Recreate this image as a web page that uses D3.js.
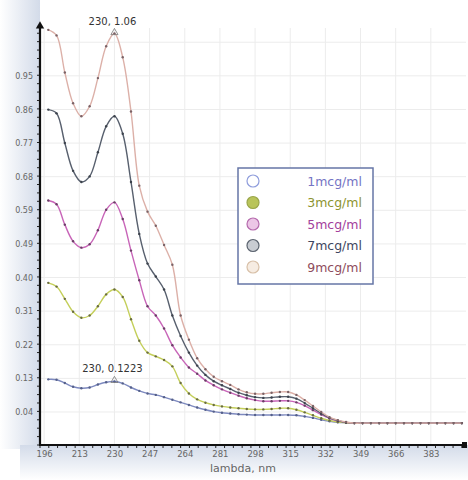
<!DOCTYPE html>
<html>
<head>
<meta charset="utf-8">
<script src="https://cdn.jsdelivr.net/npm/d3@7"></script>
<style>
	body { margin: 0; background: #fff; }
	text { font-family: "DejaVu Sans", Verdana, sans-serif; }
</style>
</head>
<body>
<div id="chart-area"></div>
<script>
// wavelength, nm
const wavelengths = [198, 202, 206, 210, 214, 218, 222, 226, 230, 234, 238, 242, 246, 250, 254, 258, 262, 266, 270, 274,
	278, 282, 286, 290, 294, 298, 302, 306, 310, 314, 318, 322, 326, 330, 334, 338, 342, 346, 350, 354,
	358, 362, 366, 370, 374, 378, 382, 386, 390, 394, 398]

// absorbance
const conc1 = [0.128, 0.127, 0.118, 0.108, 0.104, 0.106, 0.114, 0.120, 0.1223,
	0.117, 0.106, 0.097, 0.090, 0.086, 0.080, 0.073, 0.066, 0.059, 0.052,
	0.046, 0.041, 0.038, 0.036, 0.034, 0.033, 0.032, 0.032, 0.032, 0.032,
	0.032, 0.031, 0.028, 0.024, 0.019, 0.015, 0.012, 0.011,
	0.010, 0.010, 0.010, 0.010, 0.010, 0.010, 0.010, 0.010, 0.010, 0.010, 0.010, 0.010, 0.010, 0.010]
const conc3 = [0.388, 0.378, 0.345, 0.310, 0.294, 0.300, 0.325, 0.357, 0.370,
	0.350, 0.290, 0.232, 0.200, 0.190, 0.180, 0.163, 0.118, 0.090, 0.074,
	0.065, 0.059, 0.055, 0.052, 0.050, 0.048, 0.047, 0.047, 0.048, 0.050,
	0.050, 0.046, 0.039, 0.031, 0.023, 0.017, 0.013, 0.011,
	0.010, 0.010, 0.010, 0.010, 0.010, 0.010, 0.010, 0.010, 0.010, 0.010, 0.010, 0.010, 0.010, 0.010]
const conc5 = [0.610, 0.600, 0.545, 0.500, 0.483, 0.492, 0.530, 0.585, 0.605,
	0.560, 0.475, 0.395, 0.325, 0.300, 0.265, 0.220, 0.187, 0.160, 0.143,
	0.125, 0.112, 0.101, 0.092, 0.084, 0.077, 0.072, 0.069, 0.069, 0.070,
	0.070, 0.066, 0.057, 0.045, 0.033, 0.023, 0.016, 0.012,
	0.010, 0.010, 0.010, 0.010, 0.010, 0.010, 0.010, 0.010, 0.010, 0.010, 0.010, 0.010, 0.010, 0.010]
const conc7 = [0.855, 0.845, 0.765, 0.690, 0.660, 0.675, 0.740, 0.810, 0.837,
	0.790, 0.660, 0.520, 0.440, 0.405, 0.370, 0.300, 0.245, 0.200, 0.165,
	0.140, 0.123, 0.112, 0.102, 0.092, 0.085, 0.080, 0.078, 0.079, 0.081,
	0.081, 0.076, 0.064, 0.050, 0.036, 0.024, 0.017, 0.012,
	0.010, 0.010, 0.010, 0.010, 0.010, 0.010, 0.010, 0.010, 0.010, 0.010, 0.010, 0.010, 0.010, 0.010]
const conc9 = [1.070, 1.055, 0.955, 0.872, 0.837, 0.864, 0.940, 1.026, 1.060,
	0.996, 0.850, 0.650, 0.580, 0.542, 0.490, 0.437, 0.300, 0.235, 0.185,
	0.155, 0.135, 0.123, 0.113, 0.101, 0.093, 0.089, 0.089, 0.092, 0.094,
	0.094, 0.086, 0.072, 0.056, 0.040, 0.026, 0.018, 0.013,
	0.010, 0.010, 0.010, 0.010, 0.010, 0.010, 0.010, 0.010, 0.010, 0.010, 0.010, 0.010, 0.010, 0.010]

const seriesNames = ["1mcg/ml", "3mcg/ml", "5mcg/ml", "7mcg/ml", "9mcg/ml"]
const seriesValues = [conc1, conc3, conc5, conc7, conc9]

const xTicks = [196, 213, 230, 247, 264, 281, 298, 315, 332, 349, 366, 383]
const yTicks = [0.04, 0.1306, 0.2212, 0.3118, 0.4024, 0.493, 0.5836, 0.6742, 0.7648, 0.8554, 0.946, 1.0366]
const yTickLabels = ["0.04", "0.13", "0.22", "0.31", "0.40", "0.49", "0.59", "0.68", "0.77", "0.86", "0.95", ""]

// peak annotations [wavelength, absorbance, label]
const peaks = [[230, 1.06, "230, 1.06"], [230, 0.1223, "230, 0.1223"]]

const lineColors = ["#7d89bf", "#c4cf5a", "#c865b8", "#58606e", "#dcb0a8"]
const dotColors = ["#55608a", "#6a6c40", "#6a3e66", "#3c424c", "#7a6266"]
const legendFill = ["#ffffff", "#b9c45a", "#ecc6e6", "#c8ccd2", "#f6ece2"]
const legendStroke = ["#8f9ddc", "#9aa64a", "#b56aad", "#5c6470", "#d8c0a8"]
const legendText = ["#7474c4", "#8c9430", "#a2409c", "#3e4660", "#8e4c5c"]

const W = 468, H = 480
const MARGIN = { LEFT: 40, RIGHT: 2, TOP: 28, BOTTOM: 35 }

const svg = d3.select("#chart-area").append("svg")
	.attr("width", W)
	.attr("height", H)

const defs = svg.append("defs")
const gl = defs.append("linearGradient").attr("id", "gLeft")
	.attr("x1", "0").attr("x2", "1").attr("y1", "0").attr("y2", "0")
gl.append("stop").attr("offset", "0").attr("stop-color", "#ffffff")
gl.append("stop").attr("offset", "1").attr("stop-color", "#d3dbe9")
const gb = defs.append("linearGradient").attr("id", "gBottom")
	.attr("x1", "0").attr("x2", "0").attr("y1", "0").attr("y2", "1")
gb.append("stop").attr("offset", "0").attr("stop-color", "#d3dbe9")
gb.append("stop").attr("offset", "1").attr("stop-color", "#ffffff")

// shaded panels left of and below the plot
svg.append("rect").attr("x", 0).attr("y", 0).attr("width", MARGIN.LEFT).attr("height", H - MARGIN.BOTTOM + 4)
	.attr("fill", "url(#gLeft)")
svg.append("rect").attr("x", MARGIN.LEFT - 20).attr("y", H - MARGIN.BOTTOM).attr("width", W - MARGIN.LEFT + 20).attr("height", MARGIN.BOTTOM)
	.attr("fill", "url(#gBottom)")

const x = d3.scaleLinear().domain([194, 400]).range([MARGIN.LEFT, W - MARGIN.RIGHT])
const y = d3.scaleLinear().domain([-0.049, 1.075]).range([H - MARGIN.BOTTOM, MARGIN.TOP])

// grid
const grid = svg.append("g").attr("stroke", "#ececec").attr("stroke-width", 1)
grid.selectAll(".vg").data(xTicks).enter().append("line")
	.attr("x1", d => x(d)).attr("x2", d => x(d))
	.attr("y1", MARGIN.TOP).attr("y2", H - MARGIN.BOTTOM)
grid.selectAll(".hg").data(yTicks).enter().append("line")
	.attr("x1", MARGIN.LEFT).attr("x2", W - MARGIN.RIGHT)
	.attr("y1", d => y(d)).attr("y2", d => y(d))

// series
const line = d3.line()
	.x((d, i) => x(wavelengths[i]))
	.y(d => y(d))
	.curve(d3.curveCatmullRom.alpha(0.5))

seriesValues.forEach((vals, k) => {
	svg.append("path")
		.attr("d", line(vals))
		.attr("fill", "none")
		.attr("stroke", lineColors[k])
		.attr("stroke-width", 1.4)
	svg.append("g").selectAll("circle").data(vals).enter().append("circle")
		.attr("cx", (d, i) => x(wavelengths[i]))
		.attr("cy", d => y(d))
		.attr("r", 1.2)
		.attr("fill", dotColors[k])
})

// peak markers + labels
peaks.forEach(p => {
	svg.append("path")
		.attr("d", d3.symbol(d3.symbolTriangle, 22)())
		.attr("transform", `translate(${x(p[0])}, ${y(p[1]) - 1})`)
		.attr("fill", "none")
		.attr("stroke", "#777")
		.attr("stroke-width", 0.8)
	svg.append("text")
		.attr("x", x(p[0]) - 2)
		.attr("y", y(p[1]) - 9)
		.attr("text-anchor", "middle")
		.attr("font-size", "10px")
		.attr("fill", "#333")
		.text(p[2])
})

// axes
const xAxisCall = d3.axisBottom(x).tickValues(xTicks).tickSize(0).tickPadding(6)
const xAxis = svg.append("g")
	.attr("transform", `translate(0, ${H - MARGIN.BOTTOM})`)
	.call(xAxisCall)
xAxis.select(".domain").remove()
xAxis.selectAll("text").attr("font-size", "8.5px").attr("fill", "#666")

const xMinor = d3.range(194, 400, 17 / 4)
svg.append("g").selectAll("line").data(xMinor).enter().append("line")
	.attr("x1", d => x(d)).attr("x2", d => x(d))
	.attr("y1", H - MARGIN.BOTTOM).attr("y2", H - MARGIN.BOTTOM + 3)
	.attr("stroke", "#222").attr("stroke-width", 1)

const yAxisCall = d3.axisLeft(y).tickValues(yTicks).tickSize(0).tickPadding(7)
	.tickFormat((d, i) => yTickLabels[i])
const yAxis = svg.append("g")
	.attr("transform", `translate(${MARGIN.LEFT}, 0)`)
	.call(yAxisCall)
yAxis.select(".domain").remove()
yAxis.selectAll("text").attr("font-size", "8px").attr("fill", "#666")

const yMinor = d3.range(-0.049, 1.07, 0.0906 / 4)
svg.append("g").selectAll("line").data(yMinor).enter().append("line")
	.attr("x1", MARGIN.LEFT - 3).attr("x2", MARGIN.LEFT)
	.attr("y1", d => y(d)).attr("y2", d => y(d))
	.attr("stroke", "#222").attr("stroke-width", 1)

svg.append("line")
	.attr("x1", MARGIN.LEFT).attr("x2", MARGIN.LEFT)
	.attr("y1", MARGIN.TOP - 2).attr("y2", H - MARGIN.BOTTOM + 1)
	.attr("stroke", "#111").attr("stroke-width", 2.2)
svg.append("line")
	.attr("x1", MARGIN.LEFT - 1).attr("x2", W - MARGIN.RIGHT)
	.attr("y1", H - MARGIN.BOTTOM).attr("y2", H - MARGIN.BOTTOM)
	.attr("stroke", "#111").attr("stroke-width", 2.2)
svg.append("path")
	.attr("d", d3.symbol(d3.symbolTriangle, 30)())
	.attr("transform", `translate(${MARGIN.LEFT}, ${MARGIN.TOP - 2})`)
	.attr("fill", "#111")
svg.append("rect")
	.attr("x", W - MARGIN.RIGHT - 4).attr("y", H - MARGIN.BOTTOM - 3)
	.attr("width", 5).attr("height", 6)
	.attr("fill", "#111")

svg.append("text")
	.attr("x", 243)
	.attr("y", H - 8)
	.attr("text-anchor", "middle")
	.attr("font-size", "11px")
	.attr("fill", "#666")
	.text("lambda,  nm")

// legend
const legend = svg.append("g").attr("transform", "translate(238, 168)")
legend.append("rect")
	.attr("width", 135).attr("height", 116)
	.attr("fill", "#fff")
	.attr("stroke", "#6676a6")
	.attr("stroke-width", 1.5)
seriesNames.forEach((name, i) => {
	const row = legend.append("g").attr("transform", `translate(0, ${13 + i * 21.5})`)
	row.append("circle")
		.attr("cx", 15).attr("cy", 0).attr("r", 6)
		.attr("fill", legendFill[i])
		.attr("stroke", legendStroke[i])
		.attr("stroke-width", 1.2)
	row.append("text")
		.attr("x", 124).attr("y", 4.5)
		.attr("text-anchor", "end")
		.attr("font-size", "12.5px")
		.attr("fill", legendText[i])
		.text(name)
})
</script>
</body>
</html>
